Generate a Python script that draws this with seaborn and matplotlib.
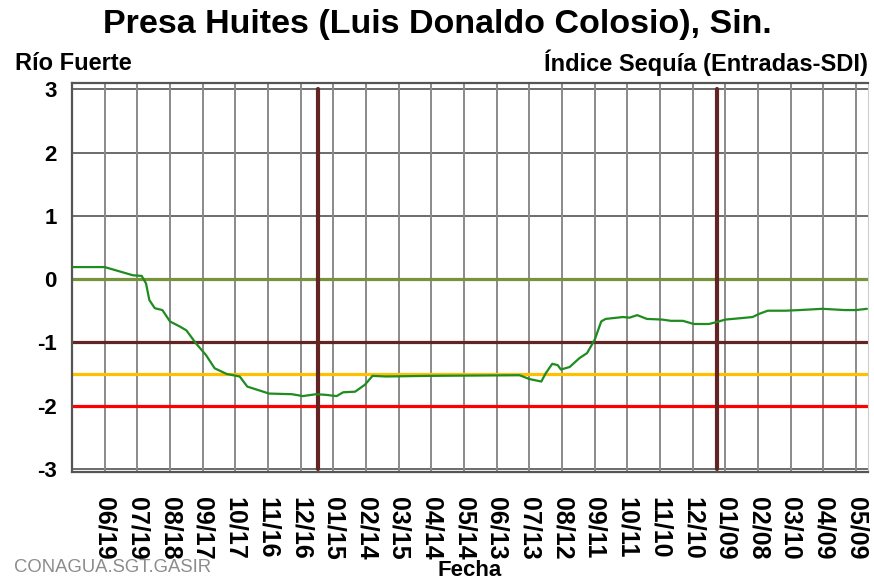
"""
Indice de sequia (SDI) de entradas a la Presa Huites.
"""

import pandas as pd
import seaborn as sns
import matplotlib.pyplot as plt

# Datos (fecha, SDI)
fechas = [
    '2019-05-21', '2019-06-19', '2019-07-03', '2019-07-15', '2019-07-23', '2019-07-27',
    '2019-07-30', '2019-08-04', '2019-08-11', '2019-08-18', '2019-08-27', '2019-09-02',
    '2019-09-11', '2019-09-20', '2019-09-28', '2019-10-09', '2019-10-21', '2019-10-28',
    '2019-11-08', '2019-11-17', '2019-12-08', '2019-12-18', '2019-12-30', '2020-01-08',
    '2020-01-18', '2020-01-24', '2020-02-04', '2020-02-13', '2020-02-20', '2020-03-03',
    '2020-04-12', '2020-07-04', '2020-07-13', '2020-07-24', '2020-07-28', '2020-08-03',
    '2020-08-08', '2020-08-11', '2020-08-19', '2020-08-28', '2020-09-04', '2020-09-11',
    '2020-09-17', '2020-09-21', '2020-10-07', '2020-10-13', '2020-10-20', '2020-10-29',
    '2020-11-12', '2020-11-20', '2020-12-01', '2020-12-11', '2020-12-25', '2021-01-03',
    '2021-01-09', '2021-01-22', '2021-02-03', '2021-02-09', '2021-02-17', '2021-03-05',
    '2021-03-18', '2021-04-08', '2021-04-29', '2021-05-09', '2021-05-19',
]
sdi = [
    0.19, 0.19, 0.12, 0.06, 0.05, -0.07,
    -0.33, -0.46, -0.49, -0.67, -0.75, -0.81,
    -1.02, -1.20, -1.41, -1.50, -1.54, -1.70,
    -1.76, -1.81, -1.82, -1.85, -1.82, -1.83,
    -1.85, -1.79, -1.78, -1.67, -1.53, -1.54,
    -1.53, -1.52, -1.58, -1.62, -1.49, -1.34,
    -1.36, -1.43, -1.39, -1.25, -1.17, -0.96,
    -0.67, -0.63, -0.60, -0.61, -0.57, -0.63,
    -0.64, -0.66, -0.66, -0.71, -0.71, -0.67,
    -0.64, -0.62, -0.60, -0.55, -0.50, -0.50,
    -0.49, -0.47, -0.49, -0.49, -0.47,
]

# Etiquetas del eje x (cada 30 dias)
tick_fechas = [
    '2019-06-19', '2019-07-19', '2019-08-18', '2019-09-17', '2019-10-17', '2019-11-16',
    '2019-12-16', '2020-01-15', '2020-02-14', '2020-03-15', '2020-04-14', '2020-05-14',
    '2020-06-13', '2020-07-13', '2020-08-12', '2020-09-11', '2020-10-11', '2020-11-10',
    '2020-12-10', '2021-01-09', '2021-02-08', '2021-03-10', '2021-04-09', '2021-05-09',
]
y_ticks = [-3, -2, -1, 0, 1, 2, 3]

# Umbrales de sequia y cambios de anio
umbrales = [0, -1, -1.5, -2]
colores_umbral = ['#77933C', '#632523', '#FFC000', '#FF0000']
cambios_anio = ['2020-01-01', '2021-01-01']

df = pd.DataFrame({'Fecha': pd.to_datetime(fechas), 'SDI': sdi})
ticks = pd.to_datetime(tick_fechas)
x_min, x_max = pd.Timestamp('2019-05-20'), pd.Timestamp('2021-05-20')

sns.set_style('white')
plt.rcParams['font.family'] = ['Liberation Sans', 'DejaVu Sans']
plt.rcParams['text.color'] = 'black'
plt.rcParams['axes.labelcolor'] = 'black'

fig = plt.figure(figsize=(8.74, 5.84), dpi=100)
ax = fig.add_axes([72 / 874, 1 - 472 / 584, 796 / 874, 389 / 584])

# Rejilla
for y in y_ticks:
    ax.axhline(y, color='#444444', linewidth=1.1, zorder=1)
for t in ticks:
    ax.axvline(t, color='#8a8a8a', linewidth=1.4, zorder=1)

# Umbrales
for u, c in zip(umbrales, colores_umbral):
    ax.axhline(u, color=c, linewidth=2.3, zorder=2)
for c in pd.to_datetime(cambios_anio):
    ax.plot([c, c], [-3, 3], color='#632523', linewidth=3, zorder=3)

sns.lineplot(data=df, x='Fecha', y='SDI', color='#1E8C1E', linewidth=1.6, ax=ax, zorder=4)

ax.set_xlim(x_min, x_max)
ax.set_ylim(-3.05, 3.1)
ax.set_xticks(ticks)
ax.set_xticklabels([t.strftime('%m/%d') for t in ticks], rotation=-90,
                   fontsize=18, fontweight='bold', ha='center', va='top')
ax.set_yticks(y_ticks)
ax.set_yticklabels([str(v) for v in y_ticks], fontsize=16, fontweight='bold')
ax.set_yticks([-2.5, -1.5, -0.5, 0.5, 1.5, 2.5], minor=True)
ax.tick_params(axis='x', length=16, width=1.2, color='#444444', labelcolor='black',
               pad=2, direction='out')
ax.tick_params(axis='y', which='major', length=8, width=1.2, color='#666666',
               labelcolor='black', pad=3, direction='out')
ax.tick_params(axis='y', which='minor', length=5, width=1.2, color='#F2F0C8', direction='in')
ax.set_xlabel('Fecha', fontsize=16, fontweight='bold')
ax.xaxis.set_label_coords(0.5, -0.226)
ax.set_ylabel('')

for side in ['left', 'top', 'bottom']:
    ax.spines[side].set_color('#555555')
    ax.spines[side].set_linewidth(1.6)
ax.spines['right'].set_color('#cccccc')

fig.text(437 / 874, 1 - 25 / 584, 'Presa Huites (Luis Donaldo Colosio), Sin.',
         ha='center', va='center', fontsize=24.5, fontweight='bold')
fig.text(15 / 874, 1 - 63 / 584, 'Río Fuerte', ha='left', va='center',
         fontsize=17, fontweight='bold')
fig.text(868 / 874, 1 - 63 / 584, 'Índice Sequía (Entradas-SDI)', ha='right', va='center',
         fontsize=17, fontweight='bold')
fig.text(14 / 874, 1 - 568 / 584, 'CONAGUA.SGT.GASIR', ha='left', va='center',
         fontsize=13.3, color='#8c8c8c')

plt.savefig('out.png', dpi=100)
